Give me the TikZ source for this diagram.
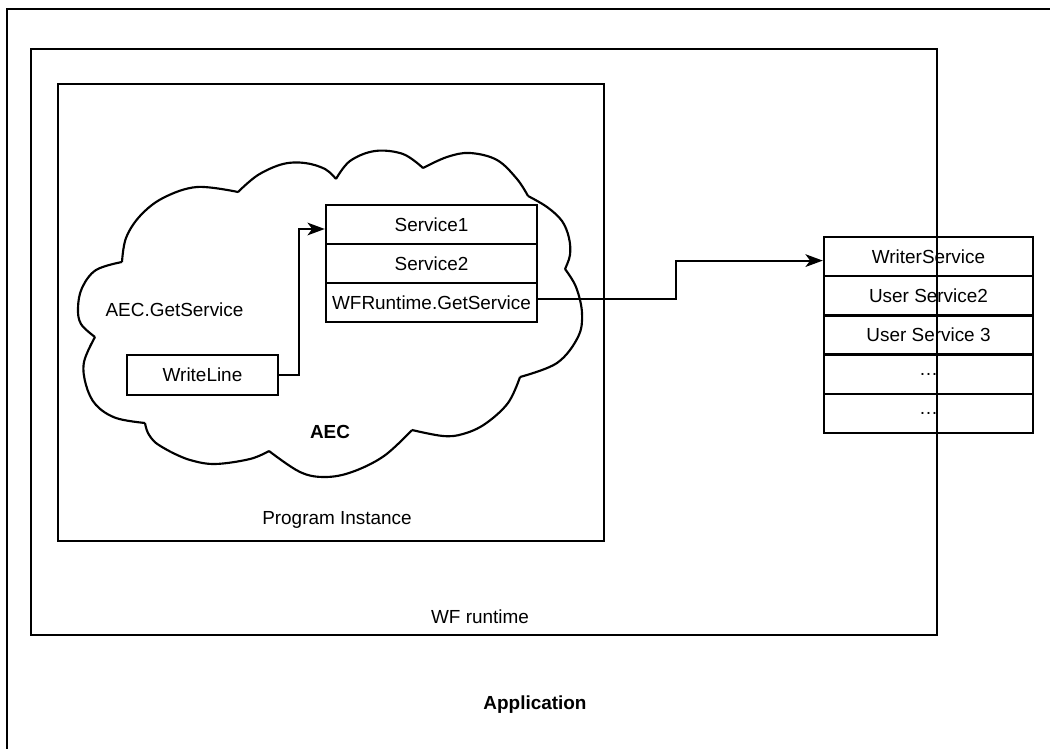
\documentclass[tikz,border=0pt]{standalone}
\usepackage{fontspec}
\setmainfont{Liberation Sans}
\usetikzlibrary{arrows.meta,calc}
\begin{document}
\begin{tikzpicture}[x=0.75pt,y=-0.75pt,line width=1.9pt,
  txt/.style={font=\fontsize{14.2}{16}\selectfont,inner sep=0pt},
  btxt/.style={font=\fontsize{14.2}{16}\selectfont\bfseries,inner sep=0pt},
  cell/.style={draw,font=\fontsize{14.2}{16}\selectfont,inner sep=0pt,line width=1.8pt},
  scell/.style={cell,minimum width=158.25pt,minimum height=29.25pt},
  wcell/.style={cell,minimum width=156.75pt,minimum height=29.4pt},
  cloudline/.style={line width=1.6pt,line join=round},
  arr/.style={-{Stealth[length=13pt,width=9.5pt,inset=3.5pt]},line width=1.6pt}]
\useasboundingbox (0,0) rectangle (1050,749);
% outer application frame
\draw (7,749) -- (7,9) -- (1050,9);
% program instance box
\draw (58,84) rectangle (604,541);
% cloud
\draw[cloudline] plot[smooth,tension=0.6] coordinates {(122,262) (126,238) (140,216) (163,198) (197,187) (238,192)};
\draw[cloudline] plot[smooth,tension=0.6] coordinates {(238,192) (258,175) (283,164) (305,163) (325,169) (336,179)};
\draw[cloudline] plot[smooth,tension=0.6] coordinates {(336,179) (350,161) (375,151) (403,154) (423,168)};
\draw[cloudline] plot[smooth,tension=0.6] coordinates {(423,168) (447,157) (470,153) (497,160) (517,179) (528,196)};
\draw[cloudline] plot[smooth,tension=0.6] coordinates {(528,196) (547,207) (562,221) (569,238) (570,255) (565,269)};
\draw[cloudline] plot[smooth,tension=0.6] coordinates {(565,269) (576,287) (582,313) (578,337) (557,363) (520,377)};
\draw[cloudline] plot[smooth,tension=0.6] coordinates {(520,377) (508,403) (485,424) (463,434) (443,436) (412,430)};
\draw[cloudline] plot[smooth,tension=0.6] coordinates {(412,430) (384,456) (352,472) (325,477) (300,472) (269,451)};
\draw[cloudline] plot[smooth,tension=0.6] coordinates {(269,451) (250,459) (215,464) (190,460) (171,452)};
\draw[cloudline] plot[smooth,tension=0.6] coordinates {(171,452) (156,443) (148,433) (145,423)};
\draw[cloudline] plot[smooth,tension=0.6] coordinates {(145,423) (116,418) (96,405) (86,385) (84,362) (95,337)};
\draw[cloudline] plot[smooth,tension=0.6] coordinates {(95,337) (81,324) (78,308) (82,288) (96,270) (122,262)};
% service stack
\node[scell] (s1) at (431.5,224.5) {Service1};
\node[scell] (s2) at (431.5,263.5) {Service2};
\node[scell] (wf) at (431.5,302.5) {WFRuntime.GetService};
% writeline
\node[cell,minimum width=113.25pt,minimum height=30pt] (wl) at (202.5,375) {WriteLine};
% writer stack
\node[wcell] (ws) at (928.5,256.6) {WriterService};
\node[wcell] (u2) at (928.5,295.8) {User Service2};
\node[wcell] (u3) at (928.5,335) {User Service 3};
\node[wcell] (d1) at (928.5,374.2) {…};
\node[wcell] (d2) at (928.5,413.4) {…};
% labels
\node[txt] (aecgs) at (174.5,310) {AEC.GetService};
\node[btxt] (aec) at (330,432) {AEC};
\node[txt] (pi) at (337,520) {Program Instance};
\node[txt] (wfr) at (480,617) {WF runtime};
\node[btxt] (app) at (535,705) {Application};
% WF runtime box
\draw (31,49) rectangle (937,635);
% connectors
\draw[arr] (wl.east) -- ++(20,0) |- ($(s1.west)+(0,4.5)$);
\draw[arr] ($(wf.east)+(0,-3.5)$) -- ++(138,0) |- ($(ws.west)+(0,4)$);
\end{tikzpicture}
\end{document}
